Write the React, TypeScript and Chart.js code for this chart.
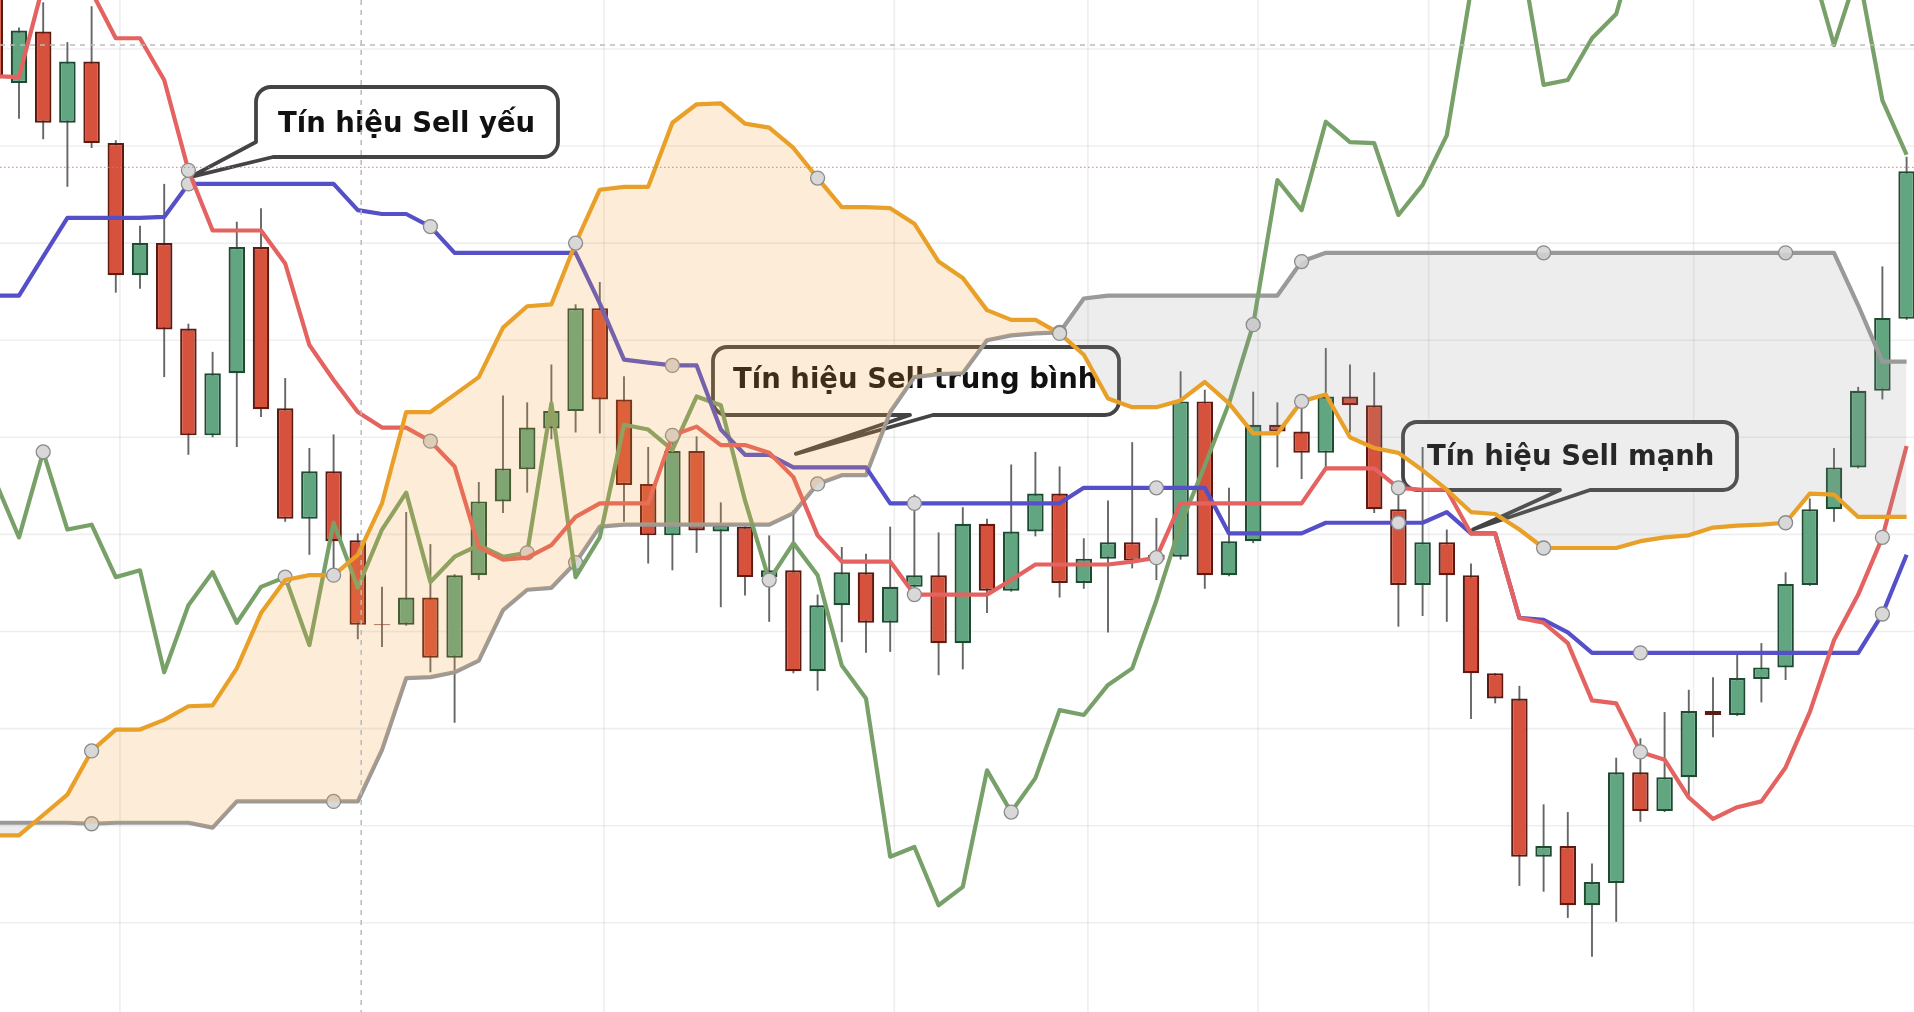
import React, { useEffect, useRef } from "react";
import { Chart, registerables } from "chart.js";

Chart.register(...registerables);

// ---------- DATA (index -1 .. 78, one value per session) ----------
const FIRST_INDEX = -1;

const opens = [
  20.71, 19.65, 20.18, 19.24, 19.87, 19.03, 17.67, 18.0, 17.12, 16.02,
  16.66, 17.96, 16.3, 15.16, 15.65, 14.94, 14.075, 14.07, 14.35, 13.73,
  14.58, 15.34, 15.67, 16.09, 16.27, 17.33, 16.39, 15.52, 14.99, 15.86,
  15.03, 15.08, 14.56, 14.63, 13.59, 14.27, 14.61, 14.09, 14.46, 14.58,
  13.88, 15.11, 14.42, 15.03, 15.42, 14.5, 14.75, 14.92, 14.79, 14.77,
  16.37, 14.58, 14.93, 16.13, 16.06, 15.84, 16.42, 16.33, 15.26, 14.48,
  14.92, 14.58, 13.57, 13.31, 11.68, 11.79, 11.18, 11.41, 12.55, 12.15,
  12.5, 13.18, 13.14, 13.51, 13.63, 14.48, 15.26, 15.69, 16.48, 17.22,
];
const highs = [
  20.91, 20.22, 20.48, 20.07, 20.44, 19.06, 18.18, 18.61, 17.17, 16.88,
  18.22, 18.36, 16.61, 15.89, 16.03, 15.01, 14.46, 15.23, 14.9, 14.59,
  15.54, 16.43, 16.36, 16.75, 17.37, 17.6, 16.63, 15.9, 16.05, 16.01,
  15.33, 15.09, 14.99, 15.25, 14.38, 14.87, 14.8, 15.08, 15.41, 15.02,
  15.28, 15.16, 15.72, 15.85, 15.7, 14.96, 15.35, 15.95, 15.17, 16.68,
  16.49, 15.48, 16.47, 16.36, 16.38, 16.92, 16.75, 16.67, 15.46, 15.9,
  15.05, 14.7, 13.57, 13.44, 12.22, 12.14, 11.61, 12.7, 12.9, 13.17,
  13.4, 13.53, 13.78, 13.88, 14.61, 15.37, 15.89, 16.52, 17.76, 18.89,
];
const lows = [
  19.57, 19.28, 19.07, 18.58, 18.98, 17.49, 17.53, 16.62, 15.82, 16.0,
  15.9, 16.21, 15.13, 14.79, 14.58, 13.92, 13.84, 14.06, 13.58, 13.06,
  14.53, 15.22, 15.43, 15.98, 16.05, 16.04, 15.13, 14.7, 14.63, 14.81,
  14.25, 14.37, 14.1, 13.57, 13.39, 13.89, 13.78, 13.79, 14.35, 13.55,
  13.61, 14.19, 14.41, 14.98, 14.35, 14.44, 13.99, 14.65, 14.53, 14.74,
  14.44, 14.57, 14.91, 15.69, 15.57, 15.68, 16.05, 15.22, 14.05, 14.16,
  14.1, 13.1, 13.26, 11.38, 11.32, 11.05, 10.65, 11.01, 12.04, 12.14,
  12.27, 12.91, 13.13, 13.27, 13.5, 14.47, 15.13, 15.68, 16.39, 17.21,
];
const closes = [
  19.72, 20.19, 19.24, 19.87, 19.03, 17.67, 18.0, 17.11, 16.02, 16.66,
  17.96, 16.29, 15.16, 15.65, 14.93, 14.07, 14.065, 14.35, 13.73, 14.58,
  15.34, 15.68, 16.1, 16.27, 17.33, 16.39, 15.51, 14.99, 15.86, 15.04,
  15.1, 14.56, 14.63, 13.59, 14.27, 14.61, 14.09, 14.46, 14.58, 13.88,
  15.11, 14.42, 15.03, 15.42, 14.5, 14.75, 14.92, 14.73, 14.74, 16.37,
  14.58, 14.93, 16.13, 16.06, 15.84, 16.42, 16.33, 15.26, 14.48, 14.92,
  14.58, 13.57, 13.31, 11.68, 11.79, 11.18, 11.42, 12.55, 12.15, 12.5,
  13.18, 13.14, 13.52, 13.63, 14.49, 15.26, 15.69, 16.48, 17.23, 18.74,
];

// Tenkan-sen (red)
const tenkan = [
  19.72, 19.71, 20.66, 20.81, 20.59, 20.11, 20.11, 19.68, 18.75, 18.13,
  18.13, 18.13, 17.79, 16.95, 16.59, 16.26, 16.1, 16.1, 15.96, 15.7,
  14.87, 14.74, 14.76, 14.89, 15.18, 15.32, 15.32, 15.32, 16.02, 16.11,
  15.92, 15.92, 15.84, 15.59, 14.99, 14.72, 14.72, 14.72, 14.38, 14.38,
  14.38, 14.38, 14.53, 14.69, 14.69, 14.69, 14.69, 14.72, 14.76, 15.32,
  15.32, 15.32, 15.32, 15.32, 15.32, 15.68, 15.68, 15.68, 15.48, 15.46,
  15.46, 15.01, 15.01, 14.14, 14.09, 13.88, 13.29, 13.26, 12.76, 12.68,
  12.29, 12.07, 12.19, 12.25, 12.6, 13.17, 13.91, 14.38, 14.97, 15.91,
];
// Kijun-sen (blue)
const kijun = [
  17.46, 17.46, 17.86, 18.26, 18.26, 18.26, 18.26, 18.27, 18.61, 18.61,
  18.61, 18.61, 18.61, 18.61, 18.61, 18.34, 18.3, 18.3, 18.17, 17.9,
  17.9, 17.9, 17.9, 17.9, 17.9, 17.38, 16.8, 16.77, 16.74, 16.74,
  16.08, 15.82, 15.82, 15.69, 15.69, 15.69, 15.69, 15.32, 15.32, 15.32,
  15.32, 15.32, 15.32, 15.32, 15.32, 15.48, 15.48, 15.48, 15.48, 15.48,
  15.48, 15.01, 15.01, 15.01, 15.01, 15.12, 15.12, 15.12, 15.12, 15.12,
  15.23, 15.01, 15.01, 14.14, 14.12, 13.99, 13.78, 13.78, 13.78, 13.78,
  13.78, 13.78, 13.78, 13.78, 13.78, 13.78, 13.78, 13.78, 14.18, 14.79,
];
// Senkou Span A (orange)
const senkouA = [
  11.9, 11.9, 12.11, 12.32, 12.77, 12.99, 12.99, 13.09, 13.23, 13.24,
  13.62, 14.19, 14.53, 14.58, 14.58, 14.79, 15.32, 16.26, 16.26, 16.44,
  16.62, 17.13, 17.35, 17.37, 18.0, 18.55, 18.58, 18.58, 19.24, 19.43,
  19.44, 19.23, 19.19, 18.98, 18.67, 18.37, 18.37, 18.36, 18.2, 17.81,
  17.64, 17.31, 17.21, 17.21, 17.07, 16.85, 16.4, 16.31, 16.31, 16.38,
  16.57, 16.35, 16.04, 16.04, 16.37, 16.44, 16.0, 15.89, 15.84, 15.66,
  15.46, 15.23, 15.21, 15.05, 14.86, 14.86, 14.86, 14.86, 14.93, 14.97,
  14.99, 15.07, 15.09, 15.1, 15.12, 15.42, 15.41, 15.18, 15.18, 15.18,
];
// Senkou Span B (grey)
const senkouB = [
  12.03, 12.03, 12.03, 12.03, 12.02, 12.03, 12.03, 12.03, 12.03, 11.98,
  12.25, 12.25, 12.25, 12.25, 12.25, 12.25, 12.78, 13.52, 13.53, 13.58,
  13.7, 14.22, 14.43, 14.45, 14.71, 15.08, 15.1, 15.1, 15.1, 15.1,
  15.1, 15.1, 15.1, 15.22, 15.52, 15.61, 15.61, 16.26, 16.62, 16.65,
  16.66, 17.0, 17.05, 17.07, 17.08, 17.43, 17.46, 17.46, 17.46, 17.46,
  17.46, 17.46, 17.46, 17.46, 17.81, 17.9, 17.9, 17.9, 17.9, 17.9,
  17.9, 17.9, 17.9, 17.9, 17.9, 17.9, 17.9, 17.9, 17.9, 17.9,
  17.9, 17.9, 17.9, 17.9, 17.9, 17.9, 17.9, 17.36, 16.78, 16.78,
];
// Chikou span (green)
const chikou = [
  15.56, 14.97, 15.85, 15.05, 15.1, 14.56, 14.63, 13.58, 14.27, 14.61,
  14.09, 14.46, 14.56, 13.86, 15.12, 14.45, 15.05, 15.43, 14.51, 14.77,
  14.89, 14.77, 14.81, 16.35, 14.56, 14.97, 16.13, 16.08, 15.87, 16.42,
  16.33, 15.35, 14.53, 14.91, 14.58, 13.65, 13.31, 11.68, 11.78, 11.18,
  11.37, 12.57, 12.14, 12.49, 13.19, 13.14, 13.45, 13.62, 14.32, 15.1,
  15.71, 16.35, 17.16, 18.65, 18.34, 19.25, 19.04, 19.03, 18.29, 18.6,
  19.11, 20.61, 21.43, 21.07, 19.63, 19.68, 20.11, 20.36, 21.22, 21.53,
  21.43, 21.64, 21.33, 21.53, 21.12, 20.92, 20.04, 20.81, 19.47, 18.91,
];

// Visible window and guide lines (index / price units)
const X_MIN = -0.785;
const X_MAX = 78.306;
const Y_MIN = 10.081;
const Y_MAX = 20.504;
const gridValues = [11, 12, 13, 14, 15, 16, 17, 18, 19, 20];
const gridIndexes = [4.17, 24.17, 36.17, 44.17, 51.2, 58.25, 69.2];
const crosshairIndex = 14.14;
const crosshairValue = 20.04;
const lastPriceValue = 18.78;

// Callouts: box in canvas pixels, tip anchored in data units
const callouts = [
  {
    text: "Tín hiệu Sell yếu",
    box: { x: 256, y: 87, w: 302, h: 70, r: 15 },
    textX: 278,
    baseline: 132,
    tailRight: [273, 157],
    tailLeft: [256, 142],
    tip: { i: 7.07, v: 18.68 },
  },
  {
    text: "Tín hiệu Sell trung bình",
    box: { x: 713, y: 347, w: 406, h: 68, r: 14 },
    textX: 733,
    baseline: 388,
    tailRight: [933, 415],
    tailLeft: [910, 415],
    tip: { i: 32.1, v: 15.83 },
  },
  {
    text: "Tín hiệu Sell mạnh",
    box: { x: 1403, y: 422, w: 334, h: 68, r: 14 },
    textX: 1427,
    baseline: 465,
    tailRight: [1590, 490],
    tailLeft: [1560, 490],
    tip: { i: 60.08, v: 15.05 },
  },
];

// ---------- STYLE ----------
const UP_FILL = "#62a581";
const UP_BORDER = "#1f4a32";
const DOWN_FILL = "#d7523d";
const DOWN_BORDER = "#5c1b12";
const WICK = "#666666";
const TENKAN_COLOR = "#e4625f";
const KIJUN_COLOR = "#5650c8";
const SPAN_A_COLOR = "#e8a028";
const SPAN_B_COLOR = "#9a9a9a";
const CHIKOU_COLOR = "#78a069";
const CLOUD_UP = "rgba(245,166,60,0.2)";
const CLOUD_DOWN = "rgba(150,150,150,0.17)";

const xs = opens.map((_, k) => FIRST_INDEX + k);
const toLine = (arr: number[]) => xs.map((x, k) => ({ x, y: arr[k] }));

const markerAt = (phase: number) => (c: any) => {
  const r = c.raw;
  if (!r) return 0;
  const m = ((r.x % 10) + 10) % 10;
  return m === phase ? 7 : 0;
};

const lineStyle = (color: string, phase: number) => ({
  type: "line" as const,
  borderColor: color,
  borderWidth: 4.2,
  tension: 0,
  pointRadius: markerAt(phase),
  pointHoverRadius: markerAt(phase),
  pointBackgroundColor: "#d8d8d8",
  pointBorderColor: "#8a8a8a",
  pointBorderWidth: 1.3,
  borderJoinStyle: "round" as const,
  fill: false,
});

function drawCallout(ctx: CanvasRenderingContext2D, chart: any, c: any) {
  const { x, y, w, h, r } = c.box;
  const tipX = chart.scales.x.getPixelForValue(c.tip.i);
  const tipY = chart.scales.y.getPixelForValue(c.tip.v);
  const [rx, ry] = c.tailRight;
  const [lx, ly] = c.tailLeft;
  ctx.beginPath();
  ctx.moveTo(x + r, y);
  ctx.lineTo(x + w - r, y);
  ctx.arcTo(x + w, y, x + w, y + r, r);
  ctx.lineTo(x + w, y + h - r);
  ctx.arcTo(x + w, y + h, x + w - r, y + h, r);
  ctx.lineTo(rx, ry);
  ctx.lineTo(tipX, tipY);
  ctx.lineTo(lx, ly);
  if (lx > x + 0.5) {
    ctx.lineTo(x + r, y + h);
    ctx.arcTo(x, y + h, x, y + h - r, r);
  }
  ctx.lineTo(x, y + r);
  ctx.arcTo(x, y, x + r, y, r);
  ctx.closePath();
  ctx.fillStyle = "#ffffff";
  ctx.fill();
  ctx.lineJoin = "round";
  ctx.lineWidth = 3.8;
  ctx.strokeStyle = "#444444";
  ctx.stroke();
  ctx.fillStyle = "#111111";
  ctx.font = 'bold 27.5px "DejaVu Sans", Verdana, sans-serif';
  ctx.textBaseline = "alphabetic";
  ctx.textAlign = "left";
  ctx.fillText(c.text, c.textX, c.baseline);
}

const decorPlugin = {
  id: "decor",
  beforeDraw(chart: any) {
    const { ctx, width, height } = chart;
    ctx.save();
    ctx.fillStyle = "#ffffff";
    ctx.fillRect(0, 0, width, height);
    ctx.restore();
  },
  beforeDatasetsDraw(chart: any) {
    const { ctx, chartArea: a, scales } = chart;
    ctx.save();
    ctx.strokeStyle = "rgba(0,0,0,0.065)";
    ctx.lineWidth = 1.6;
    gridValues.forEach((v) => {
      const py = scales.y.getPixelForValue(v);
      ctx.beginPath();
      ctx.moveTo(a.left, py);
      ctx.lineTo(a.right, py);
      ctx.stroke();
    });
    gridIndexes.forEach((i) => {
      const px = scales.x.getPixelForValue(i);
      ctx.beginPath();
      ctx.moveTo(px, a.top);
      ctx.lineTo(px, a.bottom);
      ctx.stroke();
    });
    callouts.forEach((c) => drawCallout(ctx, chart, c));
    ctx.restore();
  },
  afterDraw(chart: any) {
    const { ctx, chartArea: a, scales } = chart;
    ctx.save();
    const pp = scales.y.getPixelForValue(lastPriceValue);
    ctx.strokeStyle = "rgba(205,120,120,0.75)";
    ctx.lineWidth = 1.2;
    ctx.setLineDash([1.5, 2.5]);
    ctx.beginPath();
    ctx.moveTo(a.left, pp);
    ctx.lineTo(a.right, pp);
    ctx.stroke();
    ctx.strokeStyle = "#bababa";
    ctx.lineWidth = 1.5;
    ctx.setLineDash([5, 5]);
    const cy = scales.y.getPixelForValue(crosshairValue);
    ctx.beginPath();
    ctx.moveTo(a.left, cy);
    ctx.lineTo(a.right, cy);
    ctx.stroke();
    const cx = scales.x.getPixelForValue(crosshairIndex);
    ctx.beginPath();
    ctx.moveTo(cx, a.top);
    ctx.lineTo(cx, a.bottom);
    ctx.stroke();
    ctx.restore();
  },
};

export default function App() {
  const ref = useRef<HTMLCanvasElement | null>(null);

  useEffect(() => {
    if (!ref.current) return;
    const bodies = xs.map((x, k) => ({ x, y: [opens[k], closes[k]] }));
    const wicks = xs.map((x, k) => ({ x, y: [lows[k], highs[k]] }));
    const isUp = (c: any) => c.raw && c.raw.y[1] >= c.raw.y[0];

    const chart = new Chart(ref.current, {
      data: {
        datasets: [
          {
            type: "bar",
            label: "wick",
            data: wicks as any,
            backgroundColor: WICK,
            borderWidth: 0,
            grouped: false,
            maxBarThickness: 1.9,
            order: 20,
          } as any,
          {
            type: "bar",
            label: "body",
            data: bodies as any,
            backgroundColor: (c: any) => (isUp(c) ? UP_FILL : DOWN_FILL),
            borderColor: (c: any) => (isUp(c) ? UP_BORDER : DOWN_BORDER),
            borderWidth: 2.2,
            borderSkipped: false,
            grouped: false,
            maxBarThickness: 16.5,
            order: 19,
          } as any,
          { ...lineStyle(SPAN_B_COLOR, 3), label: "Senkou B", data: toLine(senkouB), order: 15 } as any,
          { ...lineStyle(CHIKOU_COLOR, 1), label: "Chikou", data: toLine(chikou), order: 14 } as any,
          { ...lineStyle(KIJUN_COLOR, 7), label: "Kijun", data: toLine(kijun), order: 13 } as any,
          { ...lineStyle(TENKAN_COLOR, 7), label: "Tenkan", data: toLine(tenkan), order: 12 } as any,
          {
            ...lineStyle(SPAN_A_COLOR, 3),
            label: "Senkou A",
            data: toLine(senkouA),
            order: 1,
            fill: { target: 2, above: CLOUD_UP, below: CLOUD_DOWN },
          } as any,
        ],
      },
      options: {
        animation: false,
        responsive: true,
        maintainAspectRatio: false,
        layout: { padding: 0 },
        plugins: {
          legend: { display: false },
          tooltip: { enabled: false },
        },
        events: [],
        scales: {
          x: {
            type: "linear",
            min: X_MIN,
            max: X_MAX,
            offset: false,
            display: false,
            grid: { offset: false },
          },
          y: { type: "linear", min: Y_MIN, max: Y_MAX, display: false },
        },
      },
      plugins: [decorPlugin],
    } as any);
    return () => chart.destroy();
  }, []);

  return (
    <div
      style={{
        position: "fixed",
        left: 0,
        top: 0,
        width: "100vw",
        height: "100vh",
        background: "#ffffff",
      }}
    >
      <canvas ref={ref} />
    </div>
  );
}
